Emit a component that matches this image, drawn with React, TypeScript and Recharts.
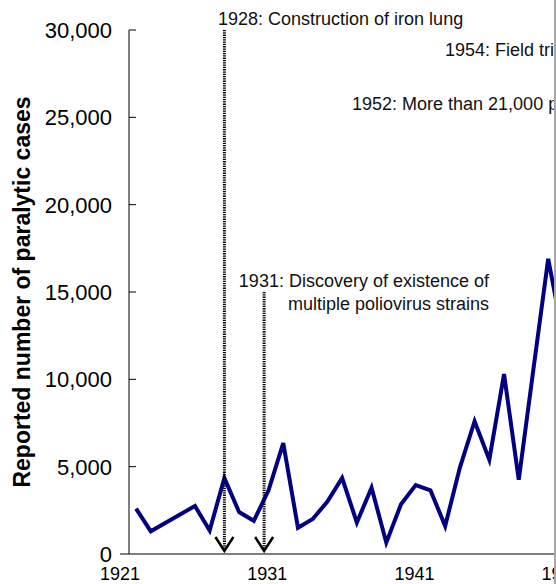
import { LineChart, Line, XAxis, YAxis, ReferenceLine } from "recharts";

// reported paralytic polio cases (1923-24 not plotted)
const years = [
  1921, 1922, 1925, 1926, 1927, 1928, 1929, 1930, 1931, 1932, 1933, 1934, 1935,
  1936, 1937, 1938, 1939, 1940, 1941, 1942, 1943, 1944, 1945, 1946, 1947, 1948,
  1949, 1950,
];
const cases = [
  2600, 1300, 2750, 1350, 4350, 2400, 1900, 3650, 6350, 1500, 2000, 3000, 4350,
  1800, 3800, 650, 2850, 3950, 3650, 1600, 4950, 7600, 5400, 10300, 4250, 10600,
  16900, 12500,
];

const xTicks = [1921, 1931, 1941, 1951];
const yTicks = [0, 5000, 10000, 15000, 20000, 25000, 30000];

// dotted arrows: where they stand on the year scale and how high they start
const arrowAt = [1927, 1929.7];
const arrowFrom = [30000, 15000];

const noteLines = [
  "1928: Construction of iron lung",
  "1954: Field trials of Salk vaccine",
  "1952: More than 21,000 paralytic cases",
  "1931: Discovery of existence of",
  "multiple poliovirus strains",
];

const data = years.map((year, i) => ({ year, cases: cases[i] }));

const FONT = "'Liberation Sans', Arial, sans-serif";

function XTick({ x, y, payload }: any) {
  return (
    <text x={x - 16} y={y + 26} textAnchor="middle" fontSize={18} fill="#000">
      {payload.value}
    </text>
  );
}

function YTick({ x, y, payload }: any) {
  const zero = payload.value === 0;
  return (
    <g>
      <line x1={zero ? x - 9 : x} x2={zero ? x : x + 7} y1={y} y2={y} stroke="#000" />
      <text x={x - 17} y={y} dy="0.36em" textAnchor="end" fontSize={22} fill="#000">
        {payload.value.toLocaleString("en-US")}
      </text>
    </g>
  );
}

function Arrow(props: any) {
  const { x1, y1, x2, y2 } = props;
  const tip = y2 - 3;
  return (
    <g>
      <line
        x1={x1}
        y1={y1}
        x2={x2}
        y2={tip - 1}
        stroke="#000"
        strokeWidth={3}
        strokeDasharray="1.3 1"
      />
      <polyline
        points={`${x2 - 9},${tip - 14} ${x2},${tip} ${x2 + 9},${tip - 14}`}
        fill="none"
        stroke="#000"
        strokeWidth={2.5}
      />
    </g>
  );
}

export default function App() {
  const spots = [
    { x: 218, y: 25, anchor: "start" },
    { x: 445, y: 56, anchor: "start" },
    { x: 352, y: 110, anchor: "start" },
    { x: 489, y: 287, anchor: "end" },
    { x: 489, y: 310, anchor: "end" },
  ];

  return (
    <div
      style={{
        position: "absolute",
        left: 0,
        top: 0,
        width: 556,
        height: 584,
        background: "#fff",
        fontFamily: FONT,
        overflow: "hidden",
      }}
    >
      <LineChart
        width={556}
        height={584}
        data={data}
        margin={{ top: 30, right: 0, bottom: 0, left: 0 }}
      >
        <XAxis
          type="number"
          dataKey="year"
          domain={[1920.52, 1949.53]}
          allowDataOverflow
          ticks={xTicks}
          interval={0}
          tickLine={false}
          tickSize={0}
          tickMargin={0}
          tick={<XTick />}
          axisLine={{ stroke: "#000" }}
          height={30}
        />
        <YAxis
          type="number"
          domain={[0, 30000]}
          ticks={yTicks}
          interval={0}
          tickLine={false}
          tickSize={0}
          tickMargin={0}
          tick={<YTick />}
          axisLine={{ stroke: "#000" }}
          width={129}
          label={{
            value: "Reported number of paralytic cases",
            angle: -90,
            position: "insideLeft",
            offset: 22,
            style: { textAnchor: "middle", fontWeight: "bold", fontSize: 23, fill: "#000" },
          }}
        />
        <Line
          dataKey="cases"
          stroke="#000080"
          strokeWidth={4}
          dot={false}
          activeDot={false}
          isAnimationActive={false}
        />
        {arrowAt.map((yr, i) => (
          <ReferenceLine
            key={i}
            segment={[
              { x: yr, y: arrowFrom[i] },
              { x: yr, y: 0 },
            ]}
            ifOverflow="visible"
            shape={Arrow}
          />
        ))}
      </LineChart>
      <svg
        width={556}
        height={584}
        style={{ position: "absolute", left: 0, top: 0, pointerEvents: "none" }}
      >
        {noteLines.map((t, i) => (
          <text
            key={i}
            x={spots[i].x}
            y={spots[i].y}
            textAnchor={spots[i].anchor as any}
            fontSize={18}
            fill="#111"
          >
            {t}
          </text>
        ))}
      </svg>
      <div
        style={{
          position: "absolute",
          left: 554,
          top: 0,
          width: 2,
          height: 584,
          background: "#a8a8a8",
        }}
      />
    </div>
  );
}
